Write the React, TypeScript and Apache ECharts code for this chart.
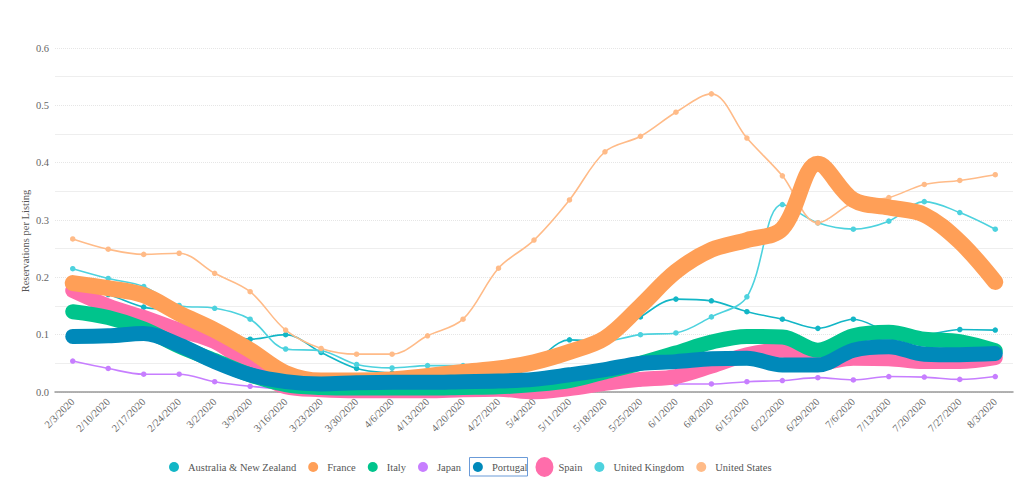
import React, { useEffect, useRef } from "react";
import * as echarts from "echarts";

const categories = [
  "2/3/2020", "2/10/2020", "2/17/2020", "2/24/2020", "3/2/2020", "3/9/2020", "3/16/2020",
  "3/23/2020", "3/30/2020", "4/6/2020", "4/13/2020", "4/20/2020", "4/27/2020", "5/4/2020",
  "5/11/2020", "5/18/2020", "5/25/2020", "6/1/2020", "6/8/2020", "6/15/2020", "6/22/2020",
  "6/29/2020", "7/6/2020", "7/13/2020", "7/20/2020", "7/27/2020", "8/3/2020",
];

const australiaNZ = [0.185, 0.17, 0.148, 0.141, 0.117, 0.092, 0.1, 0.069, 0.041, 0.033, 0.031, 0.033, 0.04, 0.055, 0.091, 0.088, 0.131, 0.162, 0.159, 0.14, 0.127, 0.111, 0.127, 0.105, 0.1, 0.109, 0.108];
const france = [0.19, 0.181, 0.169, 0.137, 0.108, 0.073, 0.033, 0.02, 0.02, 0.022, 0.028, 0.035, 0.041, 0.052, 0.07, 0.094, 0.15, 0.21, 0.248, 0.265, 0.285, 0.398, 0.335, 0.322, 0.309, 0.262, 0.192];
const italy = [0.14, 0.13, 0.11, 0.08, 0.055, 0.03, 0.013, 0.008, 0.007, 0.007, 0.007, 0.008, 0.009, 0.013, 0.02, 0.035, 0.05, 0.068, 0.087, 0.097, 0.096, 0.073, 0.098, 0.104, 0.092, 0.088, 0.072];
const japan = [0.054, 0.041, 0.031, 0.031, 0.018, 0.01, 0.005, 0.003, 0.003, 0.003, 0.003, 0.004, 0.005, 0.006, 0.008, 0.009, 0.014, 0.014, 0.014, 0.018, 0.02, 0.025, 0.021, 0.027, 0.026, 0.022, 0.027];
const portugal = [0.097, 0.098, 0.102, 0.082, 0.053, 0.03, 0.018, 0.014, 0.016, 0.017, 0.017, 0.018, 0.019, 0.022, 0.03, 0.039, 0.05, 0.053, 0.058, 0.059, 0.047, 0.047, 0.073, 0.079, 0.066, 0.065, 0.067];
const spain = [0.177, 0.15, 0.13, 0.108, 0.088, 0.047, 0.009, 0.004, 0.002, 0.002, 0.002, 0.004, 0.005, 0.0, 0.006, 0.015, 0.022, 0.027, 0.045, 0.065, 0.073, 0.05, 0.059, 0.058, 0.053, 0.053, 0.06];
const unitedKingdom = [0.215, 0.198, 0.184, 0.151, 0.146, 0.127, 0.075, 0.072, 0.048, 0.042, 0.046, 0.046, 0.047, 0.056, 0.078, 0.087, 0.1, 0.103, 0.131, 0.166, 0.327, 0.295, 0.284, 0.298, 0.332, 0.313, 0.284];
const unitedStates = [0.267, 0.249, 0.24, 0.242, 0.207, 0.175, 0.108, 0.076, 0.066, 0.066, 0.098, 0.127, 0.216, 0.265, 0.335, 0.419, 0.446, 0.488, 0.52, 0.443, 0.377, 0.295, 0.33, 0.339, 0.362, 0.369, 0.379];

const legendNames = ["Australia & New Zealand", "France", "Italy", "Japan", "Portugal", "Spain", "United Kingdom", "United States"];

const COLORS: Record<string, string> = {
  "Australia & New Zealand": "#12B6C6",
  France: "#FF9F57",
  Italy: "#00C48C",
  Japan: "#C77EFF",
  Portugal: "#0089BA",
  Spain: "#FF6DAB",
  "United Kingdom": "#4DD2DE",
  "United States": "#FFBB88",
};

const FONT = "Liberation Serif";
const FS = 10.5;

const smallCircle = "path://M0 0M18 20M9 5A5 5 0 1 1 9 15A5 5 0 1 1 9 5Z";
const bigEllipse = "path://M0 10A9 10 0 1 1 18 10A9 10 0 1 1 0 10Z";

function thin(name: string, data: number[], z: number) {
  return {
    name,
    type: "line",
    z,
    data,
    smooth: 0.35,
    symbol: "circle",
    symbolSize: 5.5,
    showSymbol: true,
    color: COLORS[name],
    itemStyle: { color: COLORS[name], borderWidth: 0 },
    lineStyle: { width: 1.6, color: COLORS[name] },
    emphasis: { disabled: true },
  };
}

function thick(name: string, data: number[], width: number, z: number) {
  return {
    name,
    type: "line",
    z,
    data,
    smooth: 0.35,
    symbol: "none",
    showSymbol: false,
    color: COLORS[name],
    itemStyle: { color: COLORS[name] },
    lineStyle: { width, color: COLORS[name], cap: "round", join: "round" },
    emphasis: { disabled: true },
  };
}

export default function App() {
  const ref = useRef<HTMLDivElement>(null);
  useEffect(() => {
    if (!ref.current) return;
    const chart = echarts.init(ref.current, undefined, { renderer: "svg" });
    chart.setOption({
      animation: false,
      backgroundColor: "#ffffff",
      textStyle: { fontFamily: FONT },
      grid: { left: 55, right: 11, top: 48, bottom: 99, containLabel: false },
      legend: {
        data: legendNames.map((n) => ({ name: n, icon: n === "Spain" ? bigEllipse : smallCircle })),
        top: 452,
        left: 160,
        itemWidth: 18,
        itemHeight: 20,
        itemGap: 8,
        selectedMode: false,
        textStyle: { fontFamily: FONT, fontSize: FS, color: "#555" },
      },
      xAxis: {
        type: "category",
        data: categories,
        boundaryGap: true,
        axisLine: { show: true, lineStyle: { color: "#999", width: 1.5 } },
        axisTick: { show: false },
        axisLabel: { rotate: 45, interval: 0, fontFamily: FONT, fontSize: FS, color: "#666", margin: 8 },
        splitLine: { show: false },
      },
      yAxis: {
        type: "value",
        min: 0,
        max: 0.6,
        interval: 0.1,
        axisLine: { show: false },
        axisTick: { show: false },
        axisLabel: { formatter: (v: number) => v.toFixed(1), fontFamily: FONT, fontSize: FS, color: "#666", margin: 6 },
        splitLine: { show: true, lineStyle: { color: "#e6e6e6", type: "dotted", width: 1 } },
        minorTick: { show: false, splitNumber: 2 },
        minorSplitLine: { show: true, lineStyle: { color: "#eeeeee", type: "solid", width: 1 } },
      },
      graphic: [
        {
          type: "text",
          x: 25,
          y: 241,
          rotation: Math.PI / 2,
          style: {
            text: "Reservations per Listing",
            fontFamily: FONT,
            fontSize: FS,
            fill: "#555",
            align: "center",
            verticalAlign: "middle",
          },
        },
        {
          type: "rect",
          shape: { x: 469.5, y: 457.5, width: 58, height: 18.5 },
          style: { fill: "none", stroke: "#6b9bd8", lineWidth: 1 },
          z: 100,
        },
      ],
      series: [
        thin("Australia & New Zealand", australiaNZ, 1),
        thin("Japan", japan, 1),
        thin("United Kingdom", unitedKingdom, 1),
        thin("United States", unitedStates, 1),
        thick("Spain", spain, 15, 3),
        thick("Italy", italy, 15, 4),
        thick("France", france, 16, 5),
        thick("Portugal", portugal, 15, 6),
      ],
    });
    return () => chart.dispose();
  }, []);
  return <div ref={ref} style={{ position: "absolute", left: 0, top: 0, width: 1024, height: 491 }} />;
}
